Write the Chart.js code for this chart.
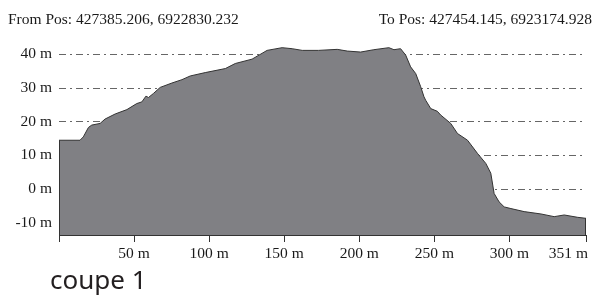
<!DOCTYPE html>
<html>
<head>
<meta charset="utf-8">
<script src="https://cdn.jsdelivr.net/npm/chart.js@4/dist/chart.umd.min.js"></script>
<style>
  body { margin: 0; background: #fff; }
  #wrap { position: relative; width: 595px; height: 300px; }
  .hdr { position: absolute; top: 11px; font: 15.5px "Liberation Serif", serif; line-height: 16px; color: #1a1a1a; white-space: nowrap; }
  #caption { position: absolute; left: 50px; top: 264px; font: 26px "Noto Sans", sans-serif; line-height: 30px; color: #231f20; }
</style>
</head>
<body>
<div id="wrap">
  <canvas id="profile" width="595" height="300"></canvas>
  <div class="hdr" style="left:8px">From Pos: 427385.206, 6922830.232</div>
  <div class="hdr" style="right:3px">To Pos: 427454.145, 6923174.928</div>
  <div id="caption">coupe 1</div>
</div>
<script>
// distance along the section (m) and elevation (m)
const distance = [0, 14.0, 16.2, 19.6, 21.8, 27.4, 30.7, 37.4, 45.2, 51.8, 55.2, 57.9, 59.6, 62.9, 67.4,
  75.2, 81.9, 87.4, 97.4, 110.8, 117.4, 128.6, 138.6, 148.6, 155.3, 162.0, 172.8, 185.3, 192.0, 200.9,
  209.7, 219.7, 223.1, 227.5, 230.9, 234.2, 237.6, 240.9, 243.1, 244.2, 247.6, 252.0, 254.2, 260.9,
  265.4, 272.1, 278.7, 284.3, 287.6, 289.8, 293.1, 296.5, 301.0, 309.8, 321.0, 329.8, 336.5, 345.5, 351];
const elevation = [14.5, 14.5, 15.5, 18.3, 19.0, 19.5, 20.8, 22.3, 23.6, 25.4, 25.9, 27.6, 27.2, 28.4, 30.2,
  31.5, 32.5, 33.6, 34.6, 35.8, 37.3, 38.6, 41.2, 42.0, 41.7, 41.2, 41.2, 41.5, 41.0, 40.7,
  41.4, 42.0, 41.4, 41.7, 39.8, 36.3, 34.3, 30.4, 27.4, 26.4, 23.9, 23.1, 22.0, 19.5,
  16.5, 14.5, 10.6, 7.6, 4.7, -1.3, -3.8, -5.3, -5.8, -6.7, -7.4, -8.2, -7.7, -8.4, -8.7];

const xTicks = [0, 50, 100, 150, 200, 250, 300, 351];
const yTicks = [-10, 0, 10, 20, 30, 40];

const serif = { family: "'Liberation Serif', serif", size: 15.5 };

// x labels drawn by hand so the last one can sit flush with its tick
const profileDecor = {
  id: "profileDecor",
  afterDraw(chart) {
    const ctx = chart.ctx;
    const xs = chart.scales.x, ys = chart.scales.y;
    ctx.save();
    ctx.strokeStyle = "#333";
    ctx.lineWidth = 1;
    // side edges of the filled profile
    const first = Math.round(xs.getPixelForValue(distance[0])) + 0.5;
    const last = Math.round(xs.getPixelForValue(distance[distance.length - 1])) - 0.5;
    ctx.beginPath();
    ctx.moveTo(first, ys.getPixelForValue(elevation[0]));
    ctx.lineTo(first, ys.bottom);
    ctx.moveTo(last, ys.getPixelForValue(elevation[elevation.length - 1]));
    ctx.lineTo(last, ys.bottom);
    ctx.stroke();

    ctx.fillStyle = "#1a1a1a";
    ctx.font = serif.size + "px " + serif.family;
    ctx.textBaseline = "alphabetic";
    xTicks.forEach((v, i) => {
      if (v === 0) return;
      const px = xs.getPixelForValue(v);
      ctx.textAlign = i === xTicks.length - 1 ? "right" : "center";
      ctx.fillText(v + " m", i === xTicks.length - 1 ? px + 2 : px, 258);
    });
    ctx.restore();
  }
};

new Chart(document.getElementById("profile"), {
  type: "line",
  data: {
    datasets: [{
      data: distance.map((d, i) => ({ x: d, y: elevation[i] })),
      borderColor: "#333",
      borderWidth: 1,
      backgroundColor: "#808084",
      fill: "start",
      pointRadius: 0,
      tension: 0
    }]
  },
  options: {
    responsive: false,
    animation: false,
    layout: { padding: { left: 16, right: 9, top: 46, bottom: 58 } },
    plugins: { legend: { display: false }, tooltip: { enabled: false } },
    scales: {
      x: {
        type: "linear",
        min: 0,
        max: 351,
        afterBuildTicks: (s) => { s.ticks = xTicks.map(v => ({ value: v })); },
        ticks: { display: false },
        grid: { drawOnChartArea: false, drawTicks: true, tickLength: 7, color: "#333" },
        border: { display: true, color: "#333" }
      },
      y: {
        min: -13.65,
        max: 42.5,
        z: 1,
        afterBuildTicks: (s) => { s.ticks = yTicks.map(v => ({ value: v })); },
        afterFit: (s) => { s.width = 43; },
        ticks: { padding: 7, color: "#1a1a1a", font: serif, callback: (v) => v + " m" },
        grid: { color: "rgba(0,0,0,0.6)", lineWidth: 1, drawTicks: false },
        border: { display: false, dash: [7, 4, 2, 4] }
      }
    }
  },
  plugins: [profileDecor]
});
</script>
</body>
</html>
